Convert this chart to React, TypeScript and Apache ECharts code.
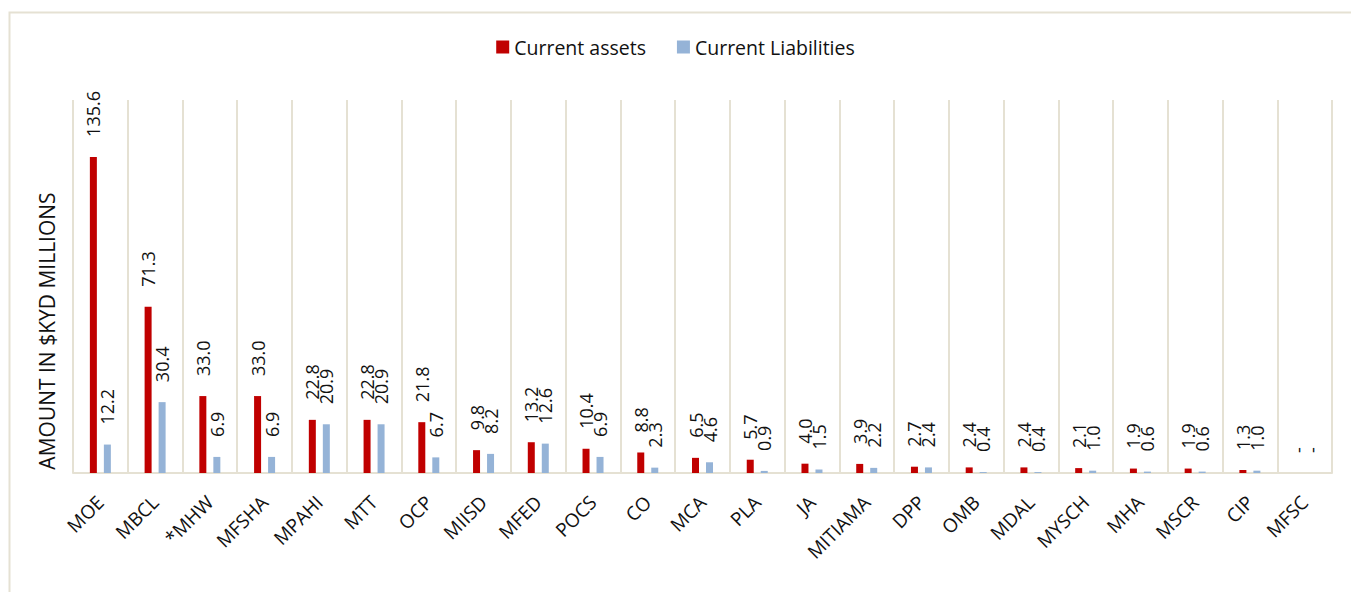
import React, { useEffect, useRef } from "react";
import * as echarts from "echarts";

const categories = ["MOE", "MBCL", "*MHW", "MFSHA", "MPAHI", "MTT", "OCP", "MIISD", "MFED", "POCS", "CO", "MCA", "PLA", "JA", "MITIAMA", "DPP", "OMB", "MDAL", "MYSCH", "MHA", "MSCR", "CIP", "MFSC"];
const currentAssets = [135.6, 71.3, 33.0, 33.0, 22.8, 22.8, 21.8, 9.8, 13.2, 10.4, 8.8, 6.5, 5.7, 4.0, 3.9, 2.7, 2.4, 2.4, 2.1, 1.9, 1.9, 1.3, 0];
const currentLiabilities = [12.2, 30.4, 6.9, 6.9, 20.9, 20.9, 6.7, 8.2, 12.6, 6.9, 2.3, 4.6, 0.9, 1.5, 2.2, 2.4, 0.4, 0.4, 1.0, 0.6, 0.6, 1.0, 0];
const seriesNames = ["Current assets", "Current Liabilities"];
const yAxisTitle = "AMOUNT IN $KYD MILLIONS";

const FONT = "'Open Sans', sans-serif";
const GRID = "#e5e1d3";

export default function App() {
  const ref = useRef<HTMLDivElement>(null);
  useEffect(() => {
    const chart = echarts.init(ref.current!, null, { renderer: "svg" });
    const label = {
      show: true,
      position: "top",
      rotate: 90,
      align: "left",
      verticalAlign: "middle",
      distance: 20,
      fontSize: 18,
      fontFamily: FONT,
      color: "#111",
      formatter: (p: any) => (p.value === 0 ? "-" : Number(p.value).toFixed(1)),
    };
    chart.setOption({
      animation: false,
      backgroundColor: "#fff",
      textStyle: { fontFamily: FONT },
      legend: {
        top: 32,
        left: "center",
        itemWidth: 13,
        itemHeight: 13,
        itemGap: 31,
        icon: "rect",
        textStyle: { fontSize: 19.5, fontFamily: FONT, color: "#111" },
        data: seriesNames,
      },
      grid: { left: 73, right: 19, top: 100, bottom: 119, containLabel: false },
      xAxis: {
        type: "category",
        data: categories,
        boundaryGap: true,
        axisLine: { show: true, lineStyle: { color: GRID, width: 2 } },
        axisTick: { show: false },
        splitLine: { show: true, interval: 0, lineStyle: { color: GRID, width: 2 } },
        axisLabel: {
          interval: 0,
          rotate: 45,
          margin: 26,
          fontSize: 19,
          fontFamily: FONT,
          color: "#111",
        },
      },
      yAxis: {
        type: "value",
        min: 0,
        max: 160,
        show: true,
        axisLine: { show: false },
        axisTick: { show: false },
        axisLabel: { show: false },
        splitLine: { show: false },
      },
      graphic: [
        {
          type: "rect",
          left: 7,
          top: 10,
          shape: { x: 0, y: 0, width: 1400, height: 700 },
          style: { fill: "none", stroke: GRID, lineWidth: 2 },
          silent: true,
        },
        {
          type: "text",
          x: 47,
          y: 331,
          rotation: Math.PI / 2,
          style: {
            text: yAxisTitle,
            fontSize: 21,
            fontFamily: FONT,
            fill: "#111",
            align: "center",
            verticalAlign: "middle",
          },
        },
      ],
      series: [
        {
          name: seriesNames[0],
          type: "bar",
          data: currentAssets,
          barWidth: 7,
          barGap: "100%",
          itemStyle: { color: "#c00000" },
          label,
        },
        {
          name: seriesNames[1],
          type: "bar",
          data: currentLiabilities,
          barWidth: 7,
          itemStyle: { color: "#95b3d7" },
          label,
        },
      ],
    });
    return () => chart.dispose();
  }, []);
  return <div ref={ref} style={{ position: "fixed", left: 0, top: 0, width: 1351, height: 592 }} />;
}
